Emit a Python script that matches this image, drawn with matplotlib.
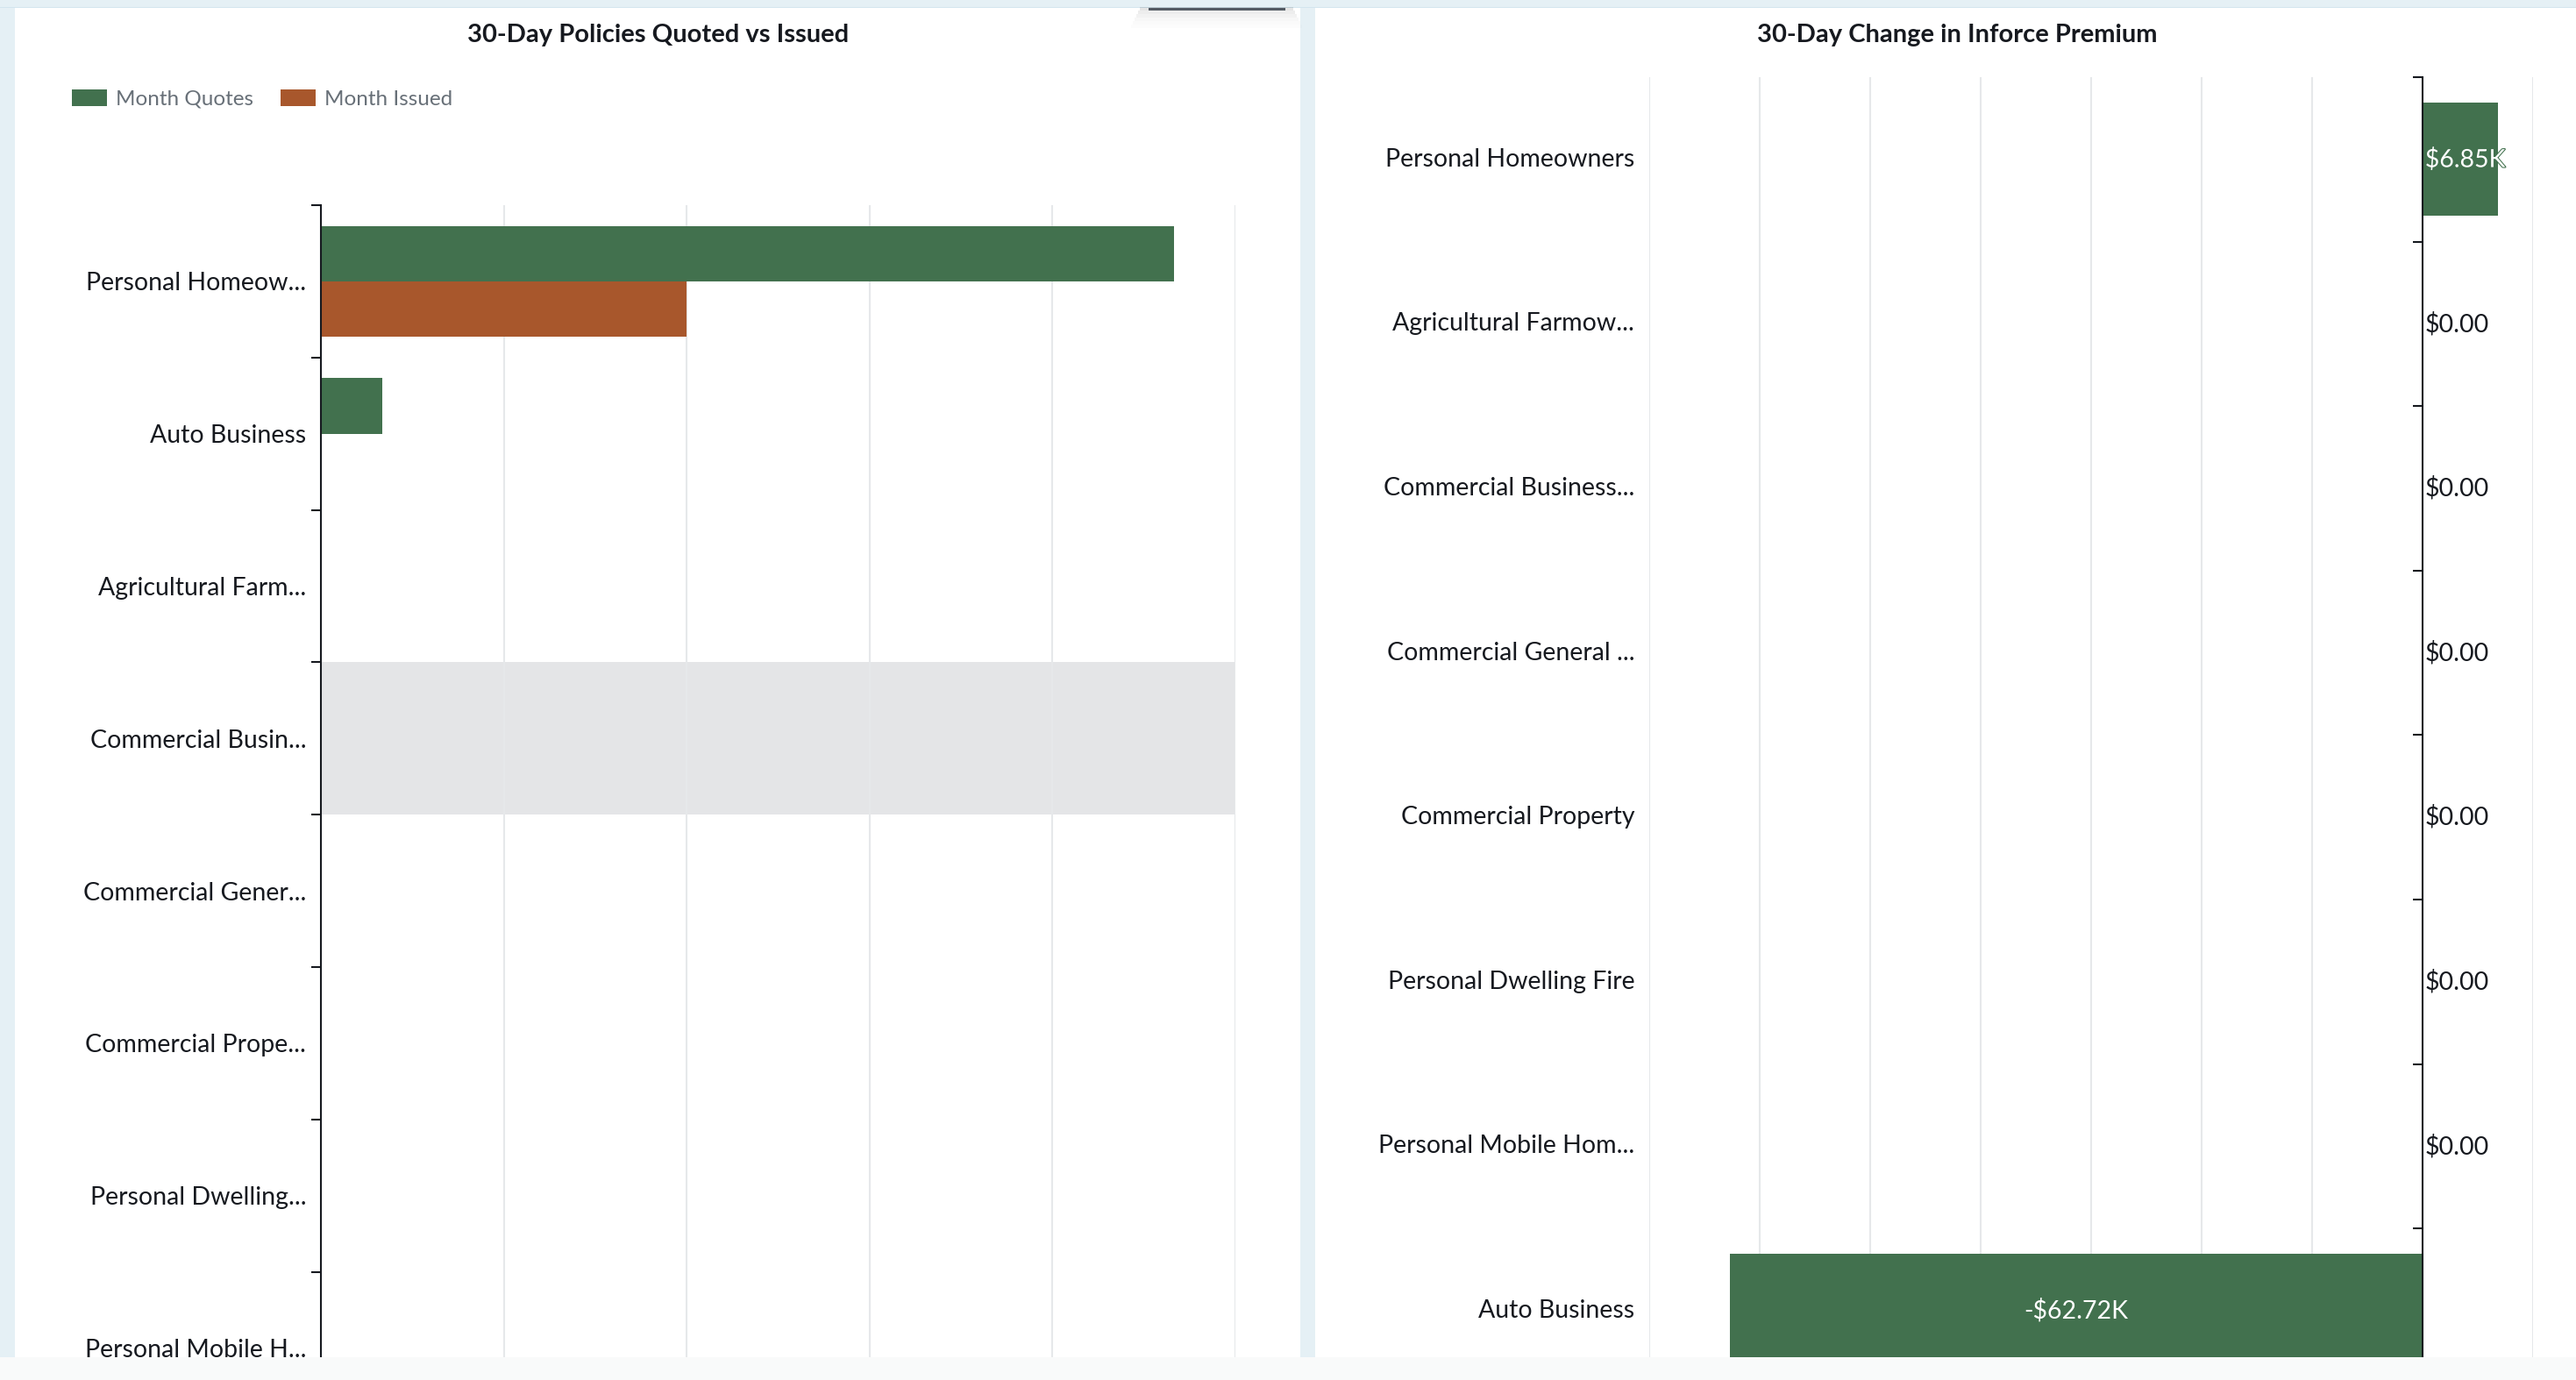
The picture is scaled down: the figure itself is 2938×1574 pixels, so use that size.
import matplotlib
matplotlib.use("Agg")
import matplotlib.pyplot as plt
import matplotlib.transforms as mtransforms
from matplotlib.patches import Rectangle, Patch, FancyBboxPatch
import matplotlib.patheffects as pe

plt.rcParams['font.family'] = ['Lato', 'DejaVu Sans']

# ---- data ----
quote_categories = ["Personal Homeow...", "Auto Business", "Agricultural Farm...",
                    "Commercial Busin...", "Commercial Gener...", "Commercial Prope...",
                    "Personal Dwelling...", "Personal Mobile H..."]
month_quotes = [14, 1, 0, 0, 0, 0, 0, 0]
month_issued = [6, 0, 0, 0, 0, 0, 0, 0]
highlight_idx = 3

premium_categories = ["Personal Homeowners", "Agricultural Farmow...", "Commercial Business...",
                      "Commercial General ...", "Commercial Property", "Personal Dwelling Fire",
                      "Personal Mobile Hom...", "Auto Business"]
premium_change = [6850, 0, 0, 0, 0, 0, 0, -62720]

GREEN = "#42714e"
ORANGE = "#a8572c"
TEXT = "#16191f"
GRID = "#e6e8ea"
BG = "#e5f0f5"
LABEL_FS = 20.5

W, H = 2938, 1574
fig = plt.figure(figsize=(W / 100, H / 100), dpi=100)
fig.patch.set_facecolor(BG)


def fx(px):
    return px / W


def fy(py):
    # py measured from the top
    return 1 - py / H


def money(v):
    if v == 0:
        return "$0.00"
    s = "-" if v < 0 else ""
    return f"{s}${abs(v) / 1000:.2f}K"


# panels
fig.patches.append(Rectangle((fx(17), 0), fx(1483 - 17), fy(9), transform=fig.transFigure,
                             facecolor="white", edgecolor="none", zorder=-10))
fig.patches.append(Rectangle((fx(1500), 0), fx(W - 1500), fy(9), transform=fig.transFigure,
                             facecolor="white", edgecolor="none", zorder=-10))
fig.patches.append(Rectangle((0, fy(9)), 1, 1.5 / H, transform=fig.transFigure,
                             facecolor="#d3e5ee", edgecolor="none", zorder=-9))
# shadow of the floating menu at the top
for i, a in enumerate([0.10, 0.07, 0.05, 0.03, 0.02, 0.01]):
    fig.patches.append(Rectangle((fx(1300 - i * 2), fy(12 + i * 4)), fx(175 + i * 4), 4 / H,
                                 transform=fig.transFigure, facecolor="black", alpha=a,
                                 edgecolor="none", zorder=-8))
fig.patches.append(FancyBboxPatch((fx(1310), fy(12)), fx(156), 3 / H, boxstyle="round,pad=0",
                                  transform=fig.transFigure, facecolor="#545b64",
                                  edgecolor="none", zorder=-7))
# bottom strip covering the scrolled part
fig.patches.append(Rectangle((0, 0), 1, 26 / H, transform=fig.transFigure,
                             facecolor="#f9fafa", edgecolor="none", zorder=20))

# ---------------- left chart ----------------
band_l = 173.8
axl = fig.add_axes([fx(366), fy(234 + 8 * band_l), fx(1409 - 366), 8 * band_l / H])
n = len(quote_categories)
ys = list(range(n))
bh = 0.364
axl.barh([y - bh / 2 for y in ys], month_quotes, height=bh, color=GREEN, zorder=2)
axl.barh([y + bh / 2 for y in ys], month_issued, height=bh, color=ORANGE, zorder=2)
axl.axhspan(highlight_idx - 0.5, highlight_idx + 0.5, color="#e4e5e7", zorder=0.2, lw=0)
axl.set_xlim(0, 15)
axl.set_ylim(n - 0.5, -0.5)
axl.set_xticks([0, 3, 6, 9, 12, 15])
axl.set_xticklabels([])
axl.tick_params(axis="x", length=0)
axl.grid(axis="x", color=GRID, lw=1.5, zorder=0.5)
axl.set_axisbelow(True)
axl.set_yticks(ys)
axl.set_yticklabels(quote_categories, fontsize=LABEL_FS, color=TEXT)
axl.set_yticks([y - 0.5 for y in ys] + [n - 0.5], minor=True)
axl.tick_params(axis="y", which="major", length=0, pad=12)
axl.tick_params(axis="y", which="minor", length=8, width=1.5, color=TEXT)
for s in ["top", "right", "bottom"]:
    axl.spines[s].set_visible(False)
axl.spines["left"].set_color(TEXT)
axl.spines["left"].set_linewidth(1.5)
axl.patch.set_alpha(0)

fig.text(fx(751), fy(40), "30-Day Policies Quoted vs Issued", ha="center", va="center",
         fontsize=21, fontweight="bold", color=TEXT)
handles = [Patch(facecolor=GREEN, label="Month Quotes"), Patch(facecolor=ORANGE, label="Month Issued")]
fig.legend(handles=handles, loc="center left", bbox_to_anchor=(fx(82), fy(113)), ncol=2,
           frameon=False, fontsize=17.5, labelcolor="#687078", handlelength=1.65, handleheight=0.83,
           handletextpad=0.42, columnspacing=1.25, borderpad=0, borderaxespad=0)

# ---------------- right chart ----------------
band_r = 187.6
axr = fig.add_axes([fx(1881), fy(88 + 8 * band_r), fx(2889 - 1881), 8 * band_r / H])
m = len(premium_categories)
yr = list(range(m))
axr.barh(yr, premium_change, height=0.688, color=GREEN, zorder=2)
axr.set_xlim(-70000, 10000)
axr.set_ylim(m - 0.5, -0.5)
axr.set_xticks(range(-70000, 10001, 10000))
axr.set_xticklabels([])
axr.tick_params(axis="x", length=0)
axr.grid(axis="x", color=GRID, lw=1.5, zorder=0.5)
axr.set_axisbelow(True)
axr.set_yticks(yr)
axr.set_yticklabels([])
axr.set_yticks([y - 0.5 for y in yr] + [m - 0.5], minor=True)
axr.tick_params(axis="y", which="major", length=0)
axr.tick_params(axis="y", which="minor", length=8, width=1.5, color=TEXT)
for s in ["top", "right", "bottom"]:
    axr.spines[s].set_visible(False)
axr.spines["left"].set_position(("data", 0))
axr.spines["left"].set_color(TEXT)
axr.spines["left"].set_linewidth(1.5)
axr.patch.set_alpha(0)

lab_tr = mtransforms.offset_copy(axr.get_yaxis_transform(), fig=fig, x=-12, units="points")
for y, c in zip(yr, premium_categories):
    axr.text(0, y, c, transform=lab_tr, ha="right", va="center", fontsize=LABEL_FS, color=TEXT)

val_tr = mtransforms.offset_copy(axr.transData, fig=fig, x=2, units="points")
for y, v in zip(yr, premium_change):
    if v < 0:
        axr.text(v / 2, y, money(v), ha="center", va="center", fontsize=LABEL_FS, color="white", zorder=3)
    elif v > 0:
        axr.text(0, y, money(v), transform=val_tr, ha="left", va="center", fontsize=LABEL_FS,
                 color="white", zorder=3,
                 path_effects=[pe.withStroke(linewidth=1.5, foreground=GREEN)])
    else:
        axr.text(0, y, money(v), transform=val_tr, ha="left", va="center", fontsize=LABEL_FS,
                 color=TEXT, zorder=3)

fig.text(fx(2232), fy(40), "30-Day Change in Inforce Premium", ha="center", va="center",
         fontsize=21, fontweight="bold", color=TEXT)

fig.savefig("out.png", dpi=100, facecolor=fig.get_facecolor())
